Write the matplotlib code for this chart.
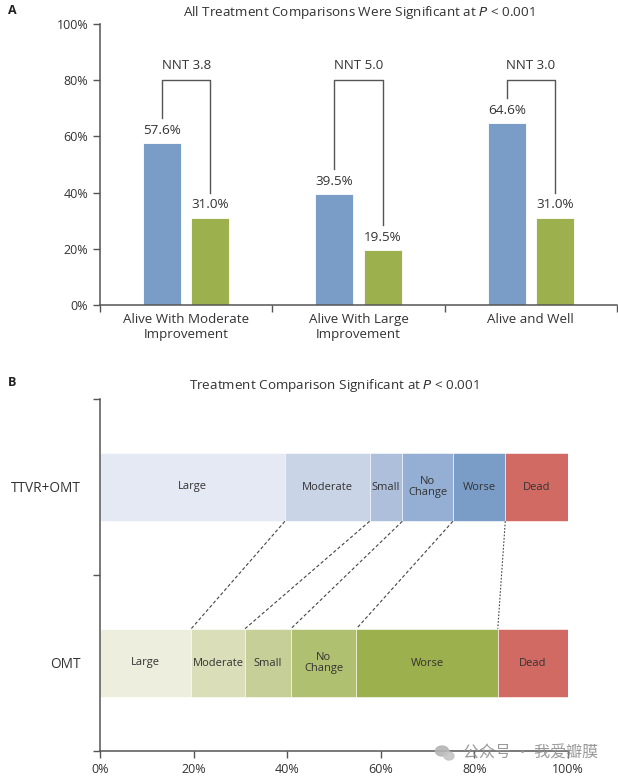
import numpy as np
import matplotlib
matplotlib.use("Agg")
import matplotlib.pyplot as plt
from matplotlib.patches import Ellipse

plt.rcParams['font.family'] = ['Open Sans', 'DejaVu Sans']

# panel A data
categories = ['Alive With Moderate\nImprovement', 'Alive With Large\nImprovement', 'Alive and Well']
ttvr_vals = [57.6, 39.5, 64.6]
omt_vals = [31.0, 19.5, 31.0]
nnt_labels = ['NNT 3.8', 'NNT 5.0', 'NNT 3.0']
pct_ticks = [0, 20, 40, 60, 80, 100]

# panel B data
groups = ['OMT', 'TTVR+OMT']
segments = ['Large', 'Moderate', 'Small', 'No\nChange', 'Worse', 'Dead']
ttvr_seg = [39.5, 18.1, 7.0, 10.8, 11.2, 13.4]
omt_seg = [19.5, 11.5, 9.8, 14.0, 30.2, 15.0]

blue = '#7a9dc8'
green = '#9cb04d'
ttvr_cols = ['#e4e9f4', '#c9d4e7', '#aebfdc', '#94afd3', '#7a9dc8', '#d06a63']
omt_cols = ['#eeeedf', '#dadfba', '#c5cf97', '#b0c071', '#9cb04d', '#d06a63']
txt = '#333333'
axc = '#555555'

fig = plt.figure(figsize=(6.18, 7.81), dpi=100)

# ---------- panel A ----------
ax = fig.add_axes([100/618, 1-305/781, 517/618, 281/781])
x = np.arange(len(categories))
off = 0.14
w = 0.22
ax.bar(x - off, ttvr_vals, w, color=blue, edgecolor='white', linewidth=0.6)
ax.bar(x + off, omt_vals, w, color=green, edgecolor='white', linewidth=0.6)
for i in range(len(x)):
    ax.text(x[i] - off, ttvr_vals[i] + 4.6, '%.1f%%' % ttvr_vals[i], ha='center', va='center',
            fontsize=9.7, color=txt)
    ax.text(x[i] + off, omt_vals[i] + 4.6, '%.1f%%' % omt_vals[i], ha='center', va='center',
            fontsize=9.7, color=txt)
    ax.plot([x[i] - off, x[i] - off, x[i] + off, x[i] + off],
            [ttvr_vals[i] + 9, 80, 80, omt_vals[i] + 9], color='#555555', lw=1.0)
    ax.text(x[i], 85.2, nnt_labels[i], ha='center', va='center', fontsize=9.5, color=txt)

ax.set_xlim(-0.5, 2.5)
ax.set_ylim(0, 100)
ax.set_yticks(pct_ticks)
ax.set_yticklabels(['%d%%' % t for t in pct_ticks])
ax.set_xticks([-0.5, 0.5, 1.5, 2.5])
ax.set_xticklabels([])
ax.set_xticks(x, minor=True)
ax.set_xticklabels(categories, minor=True)
ax.tick_params(axis='x', which='minor', length=0, pad=6, labelsize=9.6, labelcolor=txt)
ax.tick_params(axis='x', which='major', length=5, color=axc, width=1)
ax.tick_params(axis='y', length=5, color=axc, width=1, labelsize=9, labelcolor=txt)
for s in ['top', 'right']:
    ax.spines[s].set_visible(False)
for s in ['left', 'bottom']:
    ax.spines[s].set_color(axc)
    ax.spines[s].set_linewidth(1.1)
ax.set_title('All Treatment Comparisons Were Significant at $\\it{P}$ < 0.001',
             fontsize=9.7, color=txt, pad=6)

# ---------- panel B ----------
bx = fig.add_axes([100/618, 1-751/781, 468/618, 352/781])
yb = [0.5, 1.5]
h = 0.39
for yy, vals, cols in [(yb[0], omt_seg, omt_cols), (yb[1], ttvr_seg, ttvr_cols)]:
    left = 0
    for v, c, lab in zip(vals, cols, segments):
        bx.barh(yy, v, h, left=left, color=c, edgecolor='white', linewidth=0.4)
        bx.text(left + v/2, yy, lab, ha='center', va='center', fontsize=8.0,
                color=txt, linespacing=1.0)
        left += v

cum_t = np.cumsum(ttvr_seg)[:-1]
cum_o = np.cumsum(omt_seg)[:-1]
for i in range(len(cum_t)):
    dash = (3, 2) if i < len(cum_t) - 1 else (1.5, 1.5)
    bx.plot([cum_t[i], cum_o[i]], [yb[1] - h/2, yb[0] + h/2], color='#444444',
            lw=0.8, dashes=dash)

bx.set_xlim(0, 100)
bx.set_ylim(0, 2)
bx.set_xticks(pct_ticks)
bx.set_xticklabels(['%d%%' % t for t in pct_ticks])
bx.set_yticks([0, 1, 2])
bx.set_yticklabels([])
bx.set_yticks(yb, minor=True)
bx.set_yticklabels(groups, minor=True)
bx.tick_params(axis='y', which='minor', length=0, pad=14, labelsize=9.8, labelcolor=txt)
bx.tick_params(axis='y', which='major', length=5, color=axc, width=1)
bx.tick_params(axis='x', length=5, color=axc, width=1, labelsize=9, labelcolor=txt)
for s in ['top', 'right']:
    bx.spines[s].set_visible(False)
for s in ['left', 'bottom']:
    bx.spines[s].set_color(axc)
    bx.spines[s].set_linewidth(1.1)
bx.set_title('Treatment Comparison Significant at $\\it{P}$ < 0.001',
             fontsize=9.7, color=txt, pad=7)

fig.text(8/618, 1-10/781, 'A', fontsize=9, fontweight='bold', color='#222222', va='center')
fig.text(8/618, 1-383/781, 'B', fontsize=9, fontweight='bold', color='#222222', va='center')

# watermark
fig.add_artist(Ellipse((442/618, 1-751/781), 13/618, 10/781, color='#b5b5b5', alpha=0.9))
fig.add_artist(Ellipse((449/618, 1-756/781), 10/618, 8/781, color='#c5c5c5', alpha=0.9))
fig.text(463/618, 1-753/781, '公众号 · 我爱瓣膜', fontsize=11.5, color='#8f8f8f', alpha=0.9,
         va='center', family=['Noto Sans CJK SC', 'DejaVu Sans'])

fig.savefig('out.png', dpi=100)
